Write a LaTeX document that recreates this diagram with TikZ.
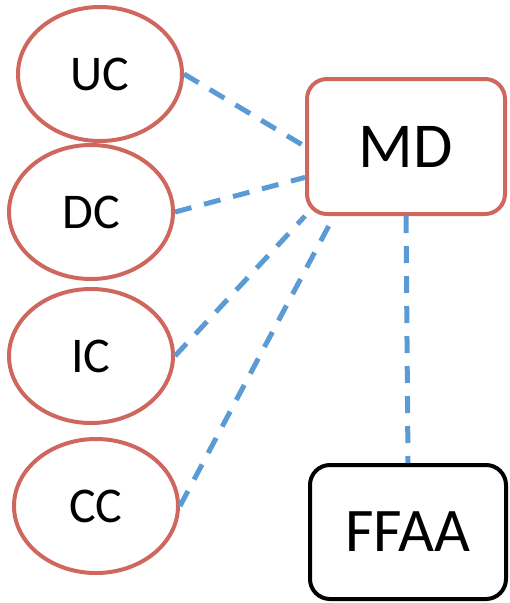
\documentclass[tikz,border=0pt]{standalone}
\usepackage{fontspec}
\setmainfont{Carlito}
\usepackage{xcolor}
\usepackage{tikz}
\usetikzlibrary{shapes.geometric, calc}
\definecolor{branchred}{HTML}{D0675F}
\definecolor{linkblue}{HTML}{5B9BD5}

\begin{document}
\begin{tikzpicture}[
    x=1pt, y=-1pt,
    branch/.style={ellipse, draw=branchred, line width=4pt, inner sep=0pt,
                   minimum width=164pt, minimum height=134pt,
                   font=\fontsize{50}{60}\selectfont},
    command/.style={rectangle, draw=#1, line width=4pt, rounded corners=20pt,
                    inner sep=0pt, minimum width=198pt, minimum height=135pt,
                    font=\fontsize{64}{76}\selectfont},
    command/.default=branchred,
    link/.style={linkblue, line width=5pt, dash pattern=on 17pt off 13pt}
]
\useasboundingbox (0,0) rectangle (510,603);

% Branches
\node[branch] at (100,74) (uc) {UC};
\node[branch] at (91,212) (dc) {DC};
\node[branch] at (91,356) (ic) {IC};
\node[branch] at (96,506) (cc) {CC};

% Command and armed forces
\node[command] at (406,146.5) (md) {MD};
\node[command=black, minimum width=196pt, minimum height=134pt,
      font=\fontsize{62}{74}\selectfont] at (408,532) (ffaa) {FFAA};

% Connections
\draw[link] (uc.east) -- (md.west);
\draw[link] (dc.east) -- (md.197);
\draw[link] (ic.east) -- (md.south west);
\draw[link] (cc.east) -- (md.224);
\draw[link] (md.south) -- (ffaa.north);

\end{tikzpicture}
\end{document}
